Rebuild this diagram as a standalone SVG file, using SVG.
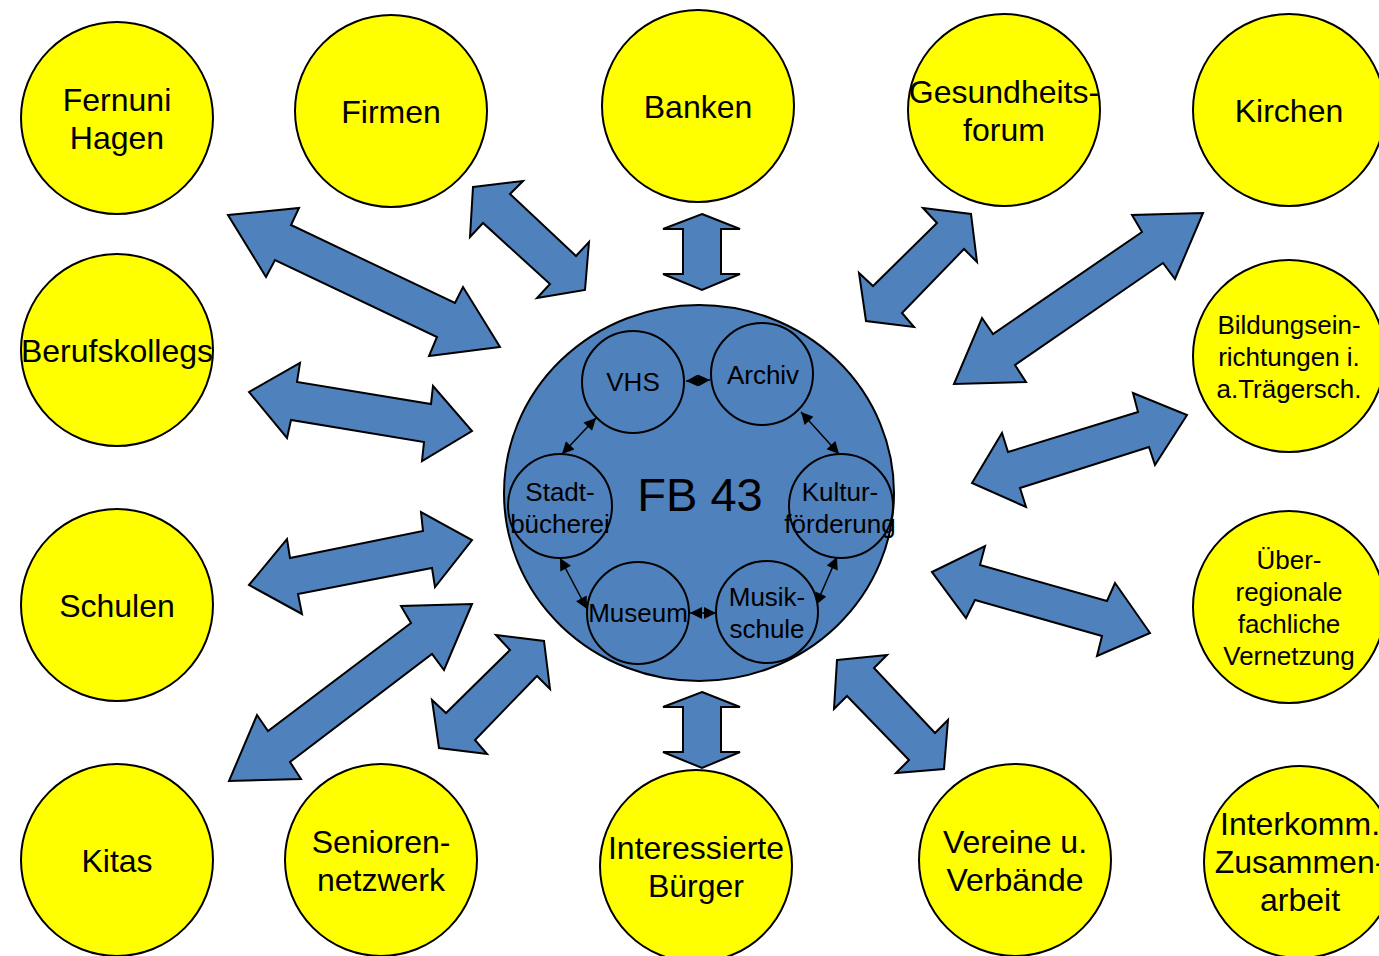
<svg xmlns="http://www.w3.org/2000/svg" width="1379" height="956" viewBox="0 0 1379 956">
<defs>
<style>
.y{fill:#FFFF00;stroke:#000;stroke-width:2}
.c{fill:#4F81BD;stroke:#000;stroke-width:2}
.a{fill:#4F81BD;stroke:#000;stroke-width:2;stroke-linejoin:miter}
.t{font-family:"Liberation Sans",Arial,sans-serif;font-size:32px;fill:#000;text-anchor:middle}
.s{font-family:"Liberation Sans",Arial,sans-serif;font-size:26px;fill:#000;text-anchor:middle}
.k{stroke:#000;stroke-width:1.5;fill:none;marker-start:url(#h);marker-end:url(#h)}
</style>
<marker id="h" viewBox="0 0 10 10" refX="10" refY="5" markerWidth="14" markerHeight="12" markerUnits="userSpaceOnUse" orient="auto-start-reverse">
<path d="M0,0 L10,5 L0,10 z" fill="#000"/>
</marker>
</defs>
<rect width="1379" height="956" fill="#fff"/>

<g id="connectors">
<polygon class="a" points="228,215 299,208 291,225 455,303 463,287 500,347 429,356 437,337 275,260 266,277"/>
<polygon class="a" points="473,187 523,181 510,194 576,256 589,242 585,290 537,298 550,284 483,223 470,237"/>
<polygon class="a" points="702,214 740,229 721,229 721,274 740,274 702,290 663,274 683,274 683,229 663,229"/>
<polygon class="a" points="923,208 971,214 977,262 964,249 902,313 914,327 866,321 859,273 873,286 937,223"/>
<polygon class="a" points="1203,213 1175,279 1163,263 1015,365 1026,382 954,384 982,318 993,334 1142,232 1132,215"/>
<polygon class="a" points="249,392 300,363 297,382 431,404 433,386 472,431 422,461 424,442 291,420 287,438"/>
<polygon class="a" points="972,483 1002,433 1008,452 1138,412 1133,393 1187,415 1155,465 1149,447 1020,488 1026,507"/>
<polygon class="a" points="249,585 287,539 290,558 423,531 421,512 472,540 435,587 432,568 298,594 302,614"/>
<polygon class="a" points="472,604 444,670 432,654 290,762 301,779 229,781 257,715 268,731 411,623 401,606"/>
<polygon class="a" points="496,635 544,641 550,689 537,676 475,740 487,754 439,748 432,700 446,713 510,650"/>
<polygon class="a" points="702,692 740,707 721,707 721,752 740,752 702,768 663,752 683,752 683,707 663,707"/>
<polygon class="a" points="837,660 887,655 874,668 935,733 948,720 944,769 896,773 909,760 847,696 834,709"/>
<polygon class="a" points="932,572 985,546 980,565 1107,601 1115,583 1150,633 1097,656 1102,636 975,600 966,618"/>
</g>

<g id="n-fb43">
<ellipse class="c" cx="699" cy="493" rx="195" ry="188"/>
<text class="t" x="700" y="511" style="font-size:47px">FB 43</text>
</g>

<g id="inner-connectors">
<line class="k" x1="686" y1="381" x2="710" y2="380"/>
<line class="k" x1="596" y1="418" x2="562" y2="454"/>
<line class="k" x1="801" y1="412" x2="839" y2="454"/>
<line class="k" x1="560" y1="558" x2="587" y2="609"/>
<line class="k" x1="837" y1="557" x2="816" y2="605"/>
<line class="k" x1="690" y1="613" x2="716" y2="613"/>
</g>

<g id="n-vhs"><circle class="c" cx="633" cy="382" r="51"/><text class="s" x="633" y="391">VHS</text></g>
<g id="n-archiv"><circle class="c" cx="762" cy="374" r="51"/><text class="s" x="763" y="384">Archiv</text></g>
<g id="n-stadt"><circle class="c" cx="560" cy="506" r="52"/><text class="s" x="560" y="501">Stadt-</text><text class="s" x="560" y="533">bücherei</text></g>
<g id="n-kultur"><circle class="c" cx="841" cy="506" r="52"/><text class="s" x="840" y="501">Kultur-</text><text class="s" x="840" y="533">förderung</text></g>
<g id="n-museum"><circle class="c" cx="638" cy="613" r="51"/><text class="s" x="638" y="622">Museum</text></g>
<g id="n-musik"><circle class="c" cx="767" cy="612" r="51"/><text class="s" x="767" y="606">Musik-</text><text class="s" x="767" y="638">schule</text></g>

<g id="n-fernuni"><circle class="y" cx="117" cy="118" r="96"/><text class="t" x="117" y="111">Fernuni</text><text class="t" x="117" y="149">Hagen</text></g>
<g id="n-firmen"><circle class="y" cx="391" cy="111" r="96"/><text class="t" x="391" y="123">Firmen</text></g>
<g id="n-banken"><circle class="y" cx="698" cy="106" r="96"/><text class="t" x="698" y="118">Banken</text></g>
<g id="n-gesund"><circle class="y" cx="1004" cy="110" r="96"/><text class="t" x="1004" y="103">Gesundheits-</text><text class="t" x="1004" y="141">forum</text></g>
<g id="n-kirchen"><circle class="y" cx="1289" cy="110" r="96"/><text class="t" x="1289" y="122">Kirchen</text></g>
<g id="n-beruf"><circle class="y" cx="117" cy="350" r="96"/><text class="t" x="117" y="362">Berufskollegs</text></g>
<g id="n-bildung"><circle class="y" cx="1289" cy="356" r="96"/><text class="s" x="1289" y="334">Bildungsein-</text><text class="s" x="1289" y="366">richtungen i.</text><text class="s" x="1289" y="398">a.Trägersch.</text></g>
<g id="n-schulen"><circle class="y" cx="117" cy="605" r="96"/><text class="t" x="117" y="617">Schulen</text></g>
<g id="n-ueber"><circle class="y" cx="1289" cy="607" r="96"/><text class="s" x="1289" y="569">Über-</text><text class="s" x="1289" y="601">regionale</text><text class="s" x="1289" y="633">fachliche</text><text class="s" x="1289" y="665">Vernetzung</text></g>
<g id="n-kitas"><circle class="y" cx="117" cy="860" r="96"/><text class="t" x="117" y="872">Kitas</text></g>
<g id="n-senioren"><circle class="y" cx="381" cy="860" r="96"/><text class="t" x="381" y="853">Senioren-</text><text class="t" x="381" y="891">netzwerk</text></g>
<g id="n-buerger"><circle class="y" cx="696" cy="866" r="96"/><text class="t" x="696" y="859">Interessierte</text><text class="t" x="696" y="897">Bürger</text></g>
<g id="n-vereine"><circle class="y" cx="1015" cy="860" r="96"/><text class="t" x="1015" y="853">Vereine u.</text><text class="t" x="1015" y="891">Verbände</text></g>
<g id="n-interkomm"><circle class="y" cx="1300" cy="862" r="96"/><text class="t" x="1300" y="835">Interkomm.</text><text class="t" x="1300" y="873">Zusammen-</text><text class="t" x="1300" y="911">arbeit</text></g>
</svg>
